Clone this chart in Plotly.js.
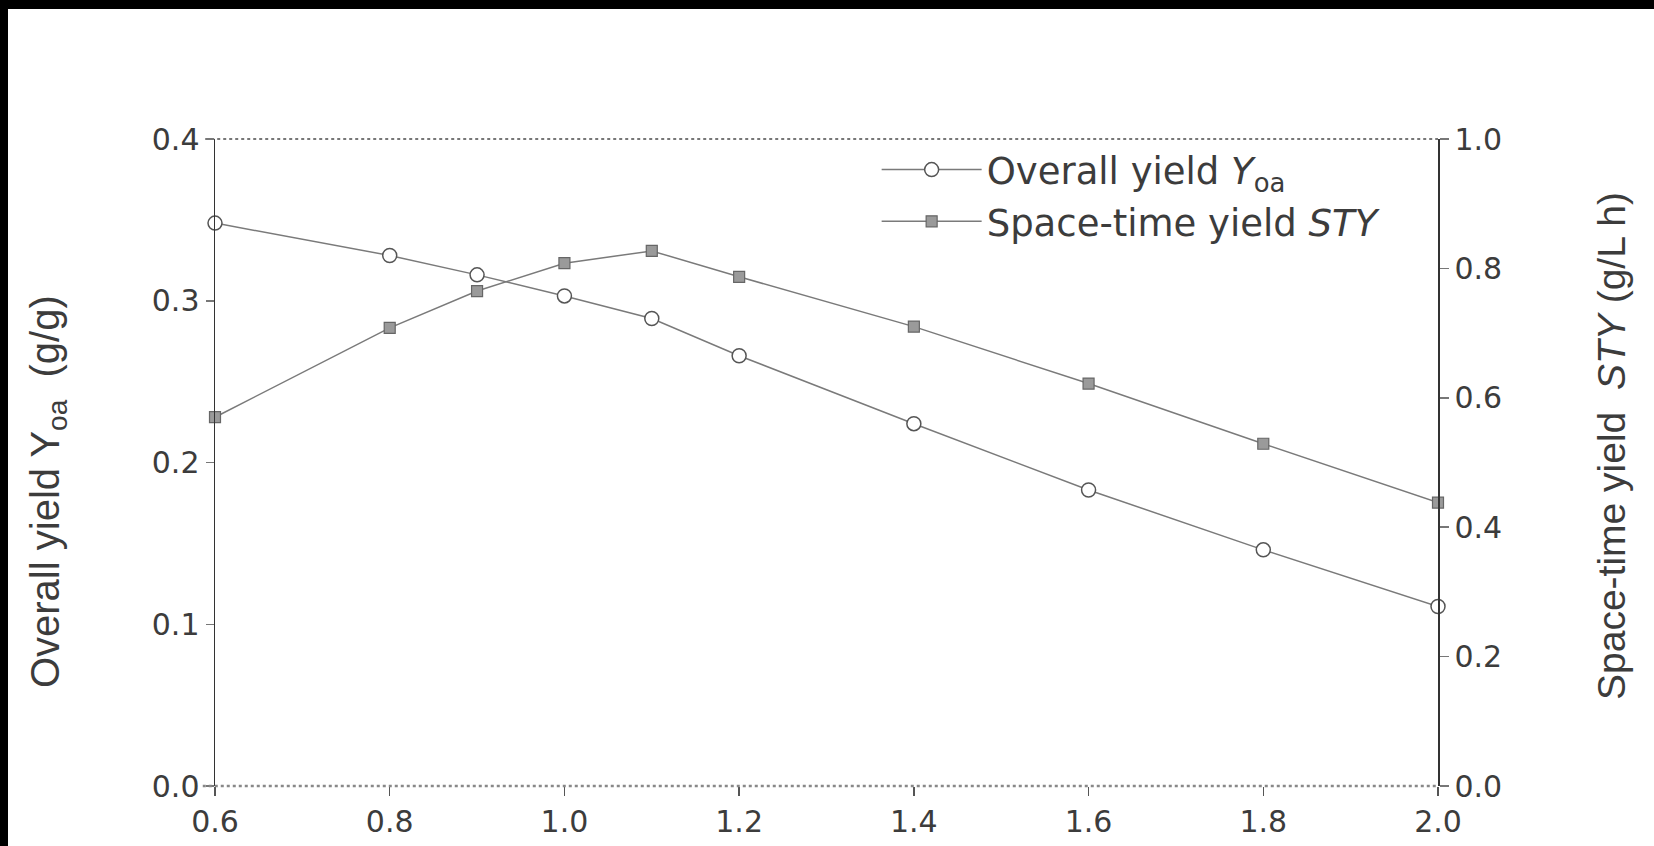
<!DOCTYPE html>
<html>
<head>
<meta charset="utf-8">
<script src="https://cdn.plot.ly/plotly-3.0.1.min.js"></script>
<style>
  html, body { margin: 0; padding: 0; background: #000; width: 1654px; height: 846px; overflow: hidden; }
  #chart { position: absolute; left: 8px; top: 9px; width: 1646px; height: 837px; background: #fff; }
</style>
</head>
<body>
<div id="chart"></div>
<script>
// x values
const xValues = [0.6, 0.8, 0.9, 1.0, 1.1, 1.2, 1.4, 1.6, 1.8, 2.0];
// Overall yield Yoa (g/g), left axis
const overallYield = [0.348, 0.328, 0.316, 0.303, 0.289, 0.266, 0.224, 0.183, 0.146, 0.111];
// Space-time yield STY (g/L h), right axis
const spaceTimeYield = [0.570, 0.708, 0.765, 0.808, 0.827, 0.787, 0.710, 0.622, 0.529, 0.438];

const xTicks = [0.6, 0.8, 1.0, 1.2, 1.4, 1.6, 1.8, 2.0];
const xTickText = ["0.6", "0.8", "1.0", "1.2", "1.4", "1.6", "1.8", "2.0"];
const yTicks = [0.0, 0.1, 0.2, 0.3, 0.4];
const yTickText = ["0.0", "0.1", "0.2", "0.3", "0.4"];
const y2Ticks = [0.0, 0.2, 0.4, 0.6, 0.8, 1.0];
const y2TickText = ["0.0", "0.2", "0.4", "0.6", "0.8", "1.0"];

const TICKFONT = "DejaVu Sans, Verdana, sans-serif";
const TITLEFONT = "Liberation Sans, Arial, sans-serif";
const TXT = "#3c3c3c";

const traces = [
  {
    x: xValues, y: overallYield, name: "Overall yield <i>Y</i><sub>oa</sub>",
    mode: "lines+markers", yaxis: "y", legend: "legend",
    line: { color: "#7a7a7a", width: 1.5 },
    marker: { symbol: "circle", size: 14, color: "#ffffff", line: { color: "#555555", width: 1.5 } },
    cliponaxis: false
  },
  {
    x: xValues, y: spaceTimeYield, name: "Space-time yield <i>STY</i>",
    mode: "lines+markers", yaxis: "y2", legend: "legend2",
    line: { color: "#7a7a7a", width: 1.5 },
    marker: { symbol: "square", size: 11, color: "#9a9a9a", line: { color: "#666666", width: 1.2 } },
    cliponaxis: false
  }
];

const legendBase = {
  xanchor: "left", yanchor: "middle",
  bgcolor: "rgba(0,0,0,0)", font: { family: TICKFONT, size: 37, color: TXT },
  itemwidth: 100
};

const layout = {
  width: 1646, height: 837,
  margin: { l: 207, r: 216, t: 130, b: 60 },
  paper_bgcolor: "#ffffff", plot_bgcolor: "#ffffff",
  font: { family: TICKFONT, color: TXT, size: 30 },
  showlegend: true,
  legend: Object.assign({}, legendBase, { x: 0.541, y: 0.952 }),
  legend2: Object.assign({}, legendBase, { x: 0.541, y: 0.872 }),
  xaxis: {
    range: [0.6, 2.0], tickvals: xTicks, ticktext: xTickText,
    showgrid: false, zeroline: false, showline: false,
    ticks: "outside", ticklen: 9, tickwidth: 1.5, tickcolor: "#555",
    tickfont: { family: TICKFONT, size: 30, color: TXT }
  },
  yaxis: {
    range: [0, 0.4], tickvals: yTicks, ticktext: yTickText,
    showgrid: false, zeroline: false,
    showline: true, linecolor: "#333", linewidth: 1.5,
    ticks: "outside", ticklen: 8, tickwidth: 1.5, tickcolor: "#777",
    tickfont: { family: TICKFONT, size: 30, color: TXT }
  },
  yaxis2: {
    range: [0, 1.0], tickvals: y2Ticks, ticktext: y2TickText,
    overlaying: "y", side: "right",
    showgrid: false, zeroline: false,
    showline: true, linecolor: "#333", linewidth: 1.5,
    ticks: "outside", ticklen: 9, tickwidth: 1.5, tickcolor: "#777",
    tickfont: { family: TICKFONT, size: 30, color: TXT }
  },
  shapes: [
    { type: "line", xref: "paper", yref: "paper", x0: -0.008, x1: 1.0, y0: 1, y1: 1,
      line: { color: "#777777", width: 2, dash: "dot" } },
    { type: "line", xref: "paper", yref: "paper", x0: -0.01, x1: 1.0, y0: 0, y1: 0,
      line: { color: "#888888", width: 2.5, dash: "dot" } }
  ],
  annotations: [
    { xref: "paper", yref: "paper", x: -0.137, y: 0.455, xanchor: "center", yanchor: "middle",
      textangle: -90, showarrow: false,
      text: "Overall yield Y<sub>oa</sub>  (g/g)", font: { family: TITLEFONT, size: 40, color: TXT } },
    { xref: "paper", yref: "paper", x: 1.142, y: 0.525, xanchor: "center", yanchor: "middle",
      textangle: -90, showarrow: false,
      text: "Space-time yield  <i>STY</i> (g/L h)", font: { family: TITLEFONT, size: 39, color: TXT } }
  ]
};

Plotly.newPlot("chart", traces, layout, { displayModeBar: false, staticPlot: true });
</script>
</body>
</html>
